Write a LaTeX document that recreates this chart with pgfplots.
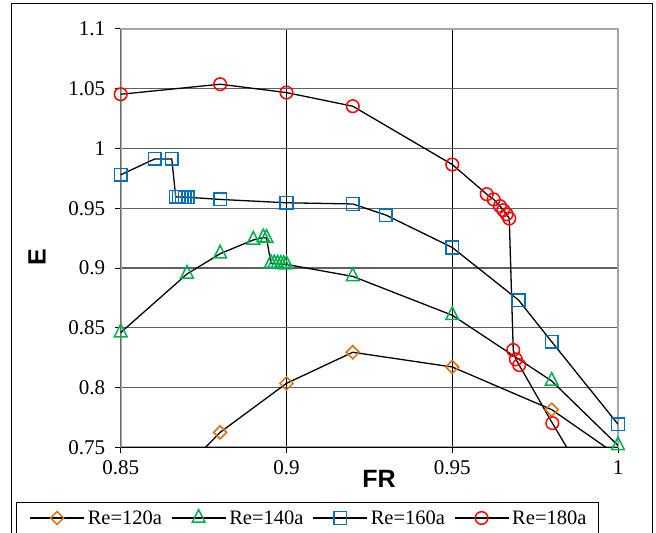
\documentclass[border=0pt]{standalone}
\usepackage{pgfplots}
\usepackage{pgfplotstable}
\pgfplotsset{compat=1.18}
\usepackage{fontspec}
\setmainfont{Liberation Serif}
\setsansfont{Liberation Sans}
\definecolor{cOrange}{RGB}{228,108,10}
\definecolor{cGreen}{RGB}{0,176,80}
\definecolor{cBlue}{RGB}{0,112,192}
\definecolor{cRed}{RGB}{255,0,0}

\pgfplotstableread{
x y
0.87 0.734
0.88 0.7625
0.90 0.8035
0.92 0.8295
0.95 0.8172
0.98 0.7815
1.00 0.743
}\reA

\pgfplotstableread{
x y
0.85 0.846
0.87 0.895
0.88 0.912
0.89 0.9235
0.893 0.9255
0.894 0.925
0.8953 0.904
0.8963 0.9037
0.8973 0.9035
0.8983 0.9033
0.8992 0.9031
0.90 0.903
0.92 0.893
0.95 0.8605
0.98 0.8055
1.00 0.7515
}\reB

\pgfplotstableread{
x y
0.85 0.978
0.8603 0.9913
0.8654 0.9913
0.8666 0.9595
0.8675 0.9595
0.8684 0.9594
0.8693 0.9593
0.8702 0.9592
0.88 0.9574
0.90 0.9546
0.92 0.9536
0.93 0.9443
0.95 0.9172
0.97 0.8732
0.98 0.8383
1.00 0.7693
}\reC

\pgfplotstableread{
x y
0.85 1.0454
0.88 1.0538
0.90 1.0468
0.92 1.0354
0.95 0.9866
0.9604 0.9618
0.9625 0.9574
0.9644 0.9518
0.9654 0.9484
0.9664 0.945
0.9672 0.9414
0.9684 0.8314
0.9692 0.8236
0.9702 0.8188
0.9802 0.7702
1.00 0.678
}\reD

\newcommand{\tfont}{\fontsize{21bp}{25bp}\selectfont}
\newcommand{\lfont}{\fontsize{20.5bp}{24bp}\selectfont}

\begin{document}
\begin{tikzpicture}
\path[use as bounding box] (0,0) rectangle (656bp,533bp);
\clip (0,0) rectangle (656bp,533bp);
\draw[black, line width=1bp] (11bp,-20bp) -- (11bp,529bp) -- (652bp,529bp) -- (652bp,-20bp);
\draw[black, line width=0.8bp] (16.8bp,-10bp) rectangle (598bp,30.3bp);
\begin{axis}[
  at={(120.7bp,85.7bp)}, anchor=south west,
  scale only axis, width=497.3bp, height=418.3bp,
  xmin=0.85, xmax=1, ymin=0.75, ymax=1.1,
  xtick={0.85,0.9,0.95,1}, xticklabels={0.85,0.9,0.95,1},
  ytick={0.75,0.8,0.85,0.9,0.95,1,1.05,1.1},
  yticklabels={0.75,0.8,0.85,0.9,0.95,1,1.05,1.1},
  tick pos=left, tick align=outside, major tick length=6bp,
  tick style={black, line width=1bp},
  tick label style={font=\tfont},
  yticklabel style={xshift=-6bp},
  xticklabel style={yshift=-4bp},
  grid=major,
  x grid style={black, line width=0.8bp},
  y grid style={gray!75!black, line width=1.1bp},
  axis line style={draw=gray!70, line width=2bp},
  xlabel={\sffamily\bfseries FR},
  ylabel={\sffamily\bfseries E},
  label style={font=\fontsize{25bp}{29bp}\selectfont},
  xlabel style={at={(axis description cs:0.5194,-0.0751)}, anchor=center},
  ylabel style={at={(axis description cs:-0.1683,0.4549)}, anchor=center},
  legend columns=4,
  legend cell align=left,
  legend style={at={(axis description cs:-0.1838,-0.169)}, anchor=west,
    draw=none, fill=none, font=\lfont, inner xsep=0bp, inner ysep=0bp,
    nodes={inner sep=3bp},
    /tikz/every even column/.append style={column sep=6bp}},
  legend image code/.code={
    \draw[black, line width=1.3bp] (0bp,0bp) -- (54bp,0bp);
    \draw[#1] plot coordinates {(27bp,0bp)};},
]
\draw[black, line width=1.2bp] (rel axis cs:0,1) -- (rel axis cs:0,0) -- (rel axis cs:1,0);

\addplot[black, line width=1.3bp, forget plot] table {\reA};
\addplot[black, line width=1.3bp, forget plot] table {\reB};
\addplot[black, line width=1.3bp, forget plot] table {\reC};
\addplot[black, line width=1.3bp, forget plot] table {\reD};

\addplot[only marks, restrict y to domain=0.749:1.1, mark=square, mark size=4.6bp,
  mark options={draw=cOrange, fill=none, line width=1.5bp, rotate=45}] table {\reA};
\addlegendentry{Re=120a}
\addplot[only marks, restrict y to domain=0.749:1.1, mark=triangle, mark size=7.3bp,
  mark options={draw=cGreen, fill=none, line width=1.5bp, yscale=1.15}] table {\reB};
\addlegendentry{Re=140a}
\addplot[only marks, restrict y to domain=0.749:1.1, mark=square, mark size=6.3bp,
  mark options={draw=cBlue, fill=none, line width=1.5bp}] table {\reC};
\addlegendentry{Re=160a}
\addplot[only marks, restrict y to domain=0.749:1.1, mark=o, mark size=6.3bp,
  mark options={draw=cRed, fill=none, line width=1.5bp}] table {\reD};
\addlegendentry{Re=180a}
\end{axis}
\end{tikzpicture}
\end{document}
